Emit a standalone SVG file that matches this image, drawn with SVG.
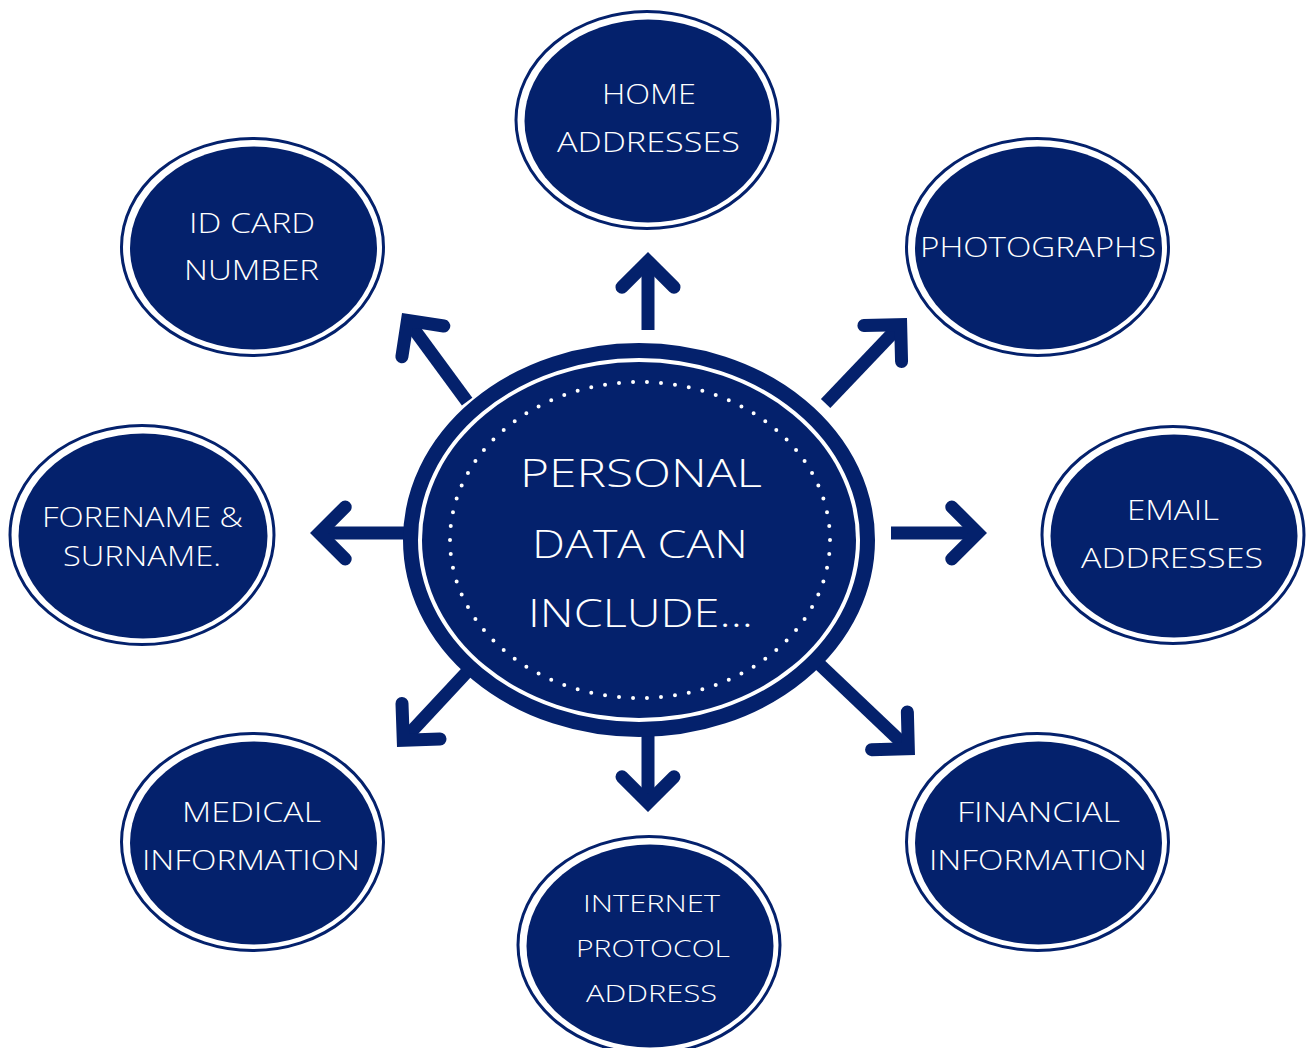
<svg xmlns="http://www.w3.org/2000/svg" xmlns:xlink="http://www.w3.org/1999/xlink" width="1314" height="1048" viewBox="0 0 1314 1048">
<style>
.ring{fill:#ffffff;stroke:#04216c;stroke-width:3}
.core{fill:#04216c}
.lbl{font-family:"Open Sans","Liberation Sans",sans-serif;font-weight:300;fill:#ffffff;text-anchor:middle;font-size:27px}
.sm{font-size:24px}
.big{font-size:38px}
.shaft{stroke:#04216c;stroke-width:13;stroke-linecap:butt;fill:none}
.head{stroke:#04216c;stroke-width:13;stroke-linecap:round;stroke-linejoin:miter;stroke-miterlimit:4;fill:none}
</style>
<defs>
<polyline id="ah" class="head" points="-35.2,-26 -9.2,0 -35.2,26"/>
</defs>
<rect width="1314" height="1048" fill="#ffffff"/>
<g id="connectors">
<g transform="translate(648,252) rotate(-90)"><line class="shaft" x1="-78" y1="0" x2="-9.2" y2="0"/><use xlink:href="#ah"/></g>
<g transform="translate(402,313) rotate(-126.3)"><line class="shaft" x1="-110" y1="0" x2="-9.2" y2="0"/><use xlink:href="#ah"/></g>
<g transform="translate(907,318) rotate(-46.4)"><line class="shaft" x1="-118" y1="0" x2="-9.2" y2="0"/><use xlink:href="#ah"/></g>
<g transform="translate(987,533)"><line class="shaft" x1="-96" y1="0" x2="-9.2" y2="0"/><use xlink:href="#ah"/></g>
<g transform="translate(915,755) rotate(43.5)"><line class="shaft" x1="-136" y1="0" x2="-9.2" y2="0"/><use xlink:href="#ah"/></g>
<g transform="translate(648,812) rotate(90)"><line class="shaft" x1="-79" y1="0" x2="-9.2" y2="0"/><use xlink:href="#ah"/></g>
<g transform="translate(397,747) rotate(133)"><line class="shaft" x1="-103" y1="0" x2="-9.2" y2="0"/><use xlink:href="#ah"/></g>
<g transform="translate(310,533) rotate(180)"><line class="shaft" x1="-96" y1="0" x2="-9.2" y2="0"/><use xlink:href="#ah"/></g>
</g>
<g id="center">
<ellipse cx="639" cy="540" rx="228.5" ry="189.5" fill="#ffffff" stroke="#04216c" stroke-width="15"/>
<ellipse cx="639" cy="540" rx="217" ry="178" class="core"/>
<ellipse cx="640" cy="540" rx="190" ry="158" fill="none" stroke="#ffffff" stroke-width="4" stroke-linecap="round" stroke-dasharray="0 14" pathLength="1092"/>
<text class="lbl big" x="641" y="487" textLength="242" lengthAdjust="spacingAndGlyphs">PERSONAL</text>
<text class="lbl big" x="640" y="558" textLength="216" lengthAdjust="spacingAndGlyphs">DATA CAN</text>
<text class="lbl big" x="640.5" y="627" textLength="225" lengthAdjust="spacingAndGlyphs">INCLUDE...</text>
</g>
<g id="home">
<ellipse class="ring" cx="647" cy="120" rx="131" ry="108.5"/>
<ellipse class="core" cx="648" cy="121" rx="123.5" ry="101.5"/>
<text class="lbl" x="649" y="104" textLength="94" lengthAdjust="spacingAndGlyphs">HOME</text>
<text class="lbl" x="648.5" y="152" textLength="183" lengthAdjust="spacingAndGlyphs">ADDRESSES</text>
</g>
<g id="photographs">
<ellipse class="ring" cx="1037.5" cy="247" rx="131" ry="108.5"/>
<ellipse class="core" cx="1038.5" cy="248" rx="123.5" ry="101.5"/>
<text class="lbl" x="1038" y="257" textLength="236" lengthAdjust="spacingAndGlyphs">PHOTOGRAPHS</text>
</g>
<g id="email">
<ellipse class="ring" cx="1173" cy="535" rx="131" ry="108.5"/>
<ellipse class="core" cx="1174" cy="536" rx="123.5" ry="101.5"/>
<text class="lbl" x="1173" y="520" textLength="92" lengthAdjust="spacingAndGlyphs">EMAIL</text>
<text class="lbl" x="1172" y="568" textLength="182" lengthAdjust="spacingAndGlyphs">ADDRESSES</text>
</g>
<g id="financial">
<ellipse class="ring" cx="1037.5" cy="842" rx="131" ry="108.5"/>
<ellipse class="core" cx="1038.5" cy="843" rx="123.5" ry="101.5"/>
<text class="lbl" x="1038.5" y="822" textLength="163" lengthAdjust="spacingAndGlyphs">FINANCIAL</text>
<text class="lbl" x="1038" y="870" textLength="218" lengthAdjust="spacingAndGlyphs">INFORMATION</text>
</g>
<g id="internet">
<ellipse class="ring" cx="649" cy="945" rx="131" ry="108.5"/>
<ellipse class="core" cx="650" cy="946" rx="123.5" ry="101.5"/>
<text class="lbl sm" x="651.5" y="912" textLength="137" lengthAdjust="spacingAndGlyphs">INTERNET</text>
<text class="lbl sm" x="653" y="957" textLength="154" lengthAdjust="spacingAndGlyphs">PROTOCOL</text>
<text class="lbl sm" x="651.5" y="1002" textLength="131" lengthAdjust="spacingAndGlyphs">ADDRESS</text>
</g>
<g id="medical">
<ellipse class="ring" cx="252.5" cy="842" rx="131" ry="108.5"/>
<ellipse class="core" cx="253.5" cy="843" rx="123.5" ry="101.5"/>
<text class="lbl" x="251.5" y="822" textLength="139" lengthAdjust="spacingAndGlyphs">MEDICAL</text>
<text class="lbl" x="251" y="870" textLength="218" lengthAdjust="spacingAndGlyphs">INFORMATION</text>
</g>
<g id="forename">
<ellipse class="ring" cx="142" cy="535" rx="132" ry="109.5"/>
<ellipse class="core" cx="143" cy="536" rx="124.5" ry="102.5"/>
<text class="lbl" x="142.5" y="527" textLength="201" lengthAdjust="spacingAndGlyphs">FORENAME &amp;</text>
<text class="lbl" x="142" y="566" textLength="158" lengthAdjust="spacingAndGlyphs">SURNAME.</text>
</g>
<g id="idcard">
<ellipse class="ring" cx="252.5" cy="247" rx="131" ry="108.5"/>
<ellipse class="core" cx="253.5" cy="248" rx="123.5" ry="101.5"/>
<text class="lbl" x="252" y="233" textLength="126" lengthAdjust="spacingAndGlyphs">ID CARD</text>
<text class="lbl" x="251.5" y="280" textLength="135" lengthAdjust="spacingAndGlyphs">NUMBER</text>
</g>
</svg>
